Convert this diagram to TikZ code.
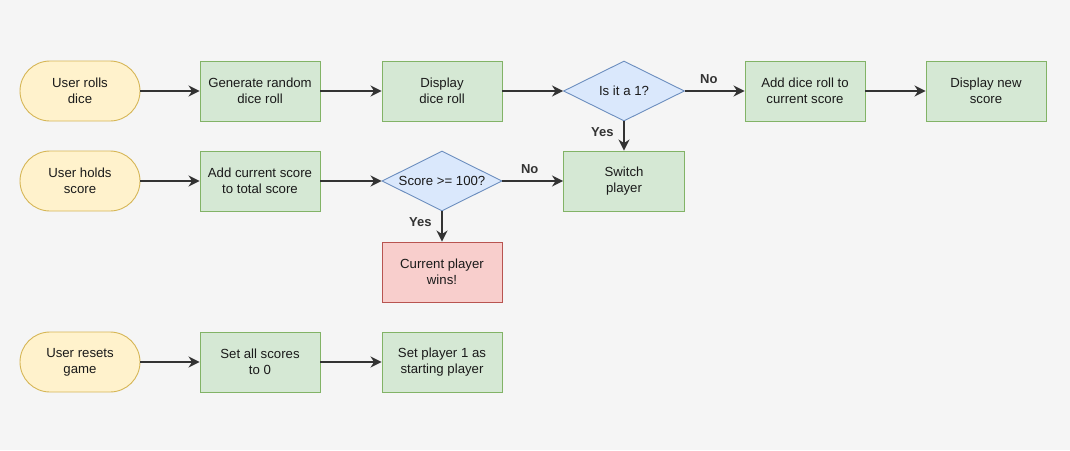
\documentclass[tikz,border=0pt]{standalone}
\usepackage{fontspec}
\setmainfont{Liberation Sans}
\usetikzlibrary{shapes.geometric,shapes.misc,arrows.meta}
\definecolor{bg}{HTML}{F5F5F5}
\definecolor{termfill}{HTML}{FFF2CC}
\definecolor{termdraw}{HTML}{D6B656}
\definecolor{procfill}{HTML}{D5E8D4}
\definecolor{procdraw}{HTML}{82B366}
\definecolor{decfill}{HTML}{DAE8FC}
\definecolor{decdraw}{HTML}{6C8EBF}
\definecolor{endfill}{HTML}{F8CECC}
\definecolor{enddraw}{HTML}{B85450}
\definecolor{edge}{HTML}{333333}
\definecolor{txt}{HTML}{1A1A1A}
\tikzset{
  base/.style={font=\fontsize{13.2}{16}\selectfont, align=center, text=txt, line width=0.9pt, inner sep=0pt},
  term/.style={base, rounded rectangle, fill=termfill, draw=termdraw, minimum width=120pt, minimum height=60pt},
  proc/.style={base, rectangle, fill=procfill, draw=procdraw, minimum width=120pt, minimum height=60pt},
  win/.style={base, rectangle, fill=endfill, draw=enddraw, minimum width=120pt, minimum height=60pt},
  dec/.style={base, diamond, fill=decfill, draw=decdraw, minimum width=120pt, minimum height=60pt, aspect=2},
  conn/.style={draw=edge, line width=2.2pt, -{Stealth[length=11pt,width=11pt,inset=3.5pt]}},
  lbl/.style={font=\fontsize{13}{15}\selectfont\bfseries, text=edge}
}
\begin{document}
\begin{tikzpicture}[x=1pt,y=-1pt]
\fill[bg] (0,0) rectangle (1070,450);
\useasboundingbox (0,0) rectangle (1070,450);
% row 1
\node[term] (roll) at (80,91) {User rolls\\dice};
\node[proc] (gen) at (260,91) {Generate random\\dice roll};
\node[proc] (disp) at (442,91) {Display\\dice roll};
\node[dec, minimum width=121pt] (is1) at (624,91) {Is it a 1?};
\node[proc] (add) at (805,91) {Add dice roll to\\current score};
\node[proc] (new) at (986,91) {Display new\\score};
% row 2
\node[term] (hold) at (80,181) {User holds\\score};
\node[proc] (total) at (260,181) {Add current score\\to total score};
\node[dec] (s100) at (442,181) {Score >= 100?};
\node[proc, minimum width=121pt] (switch) at (624,181) {Switch\\player};
\node[win] (wins) at (442,272) {Current player\\wins!};
% row 3
\node[term] (reset) at (80,362) {User resets\\game};
\node[proc] (zero) at (260,362) {Set all scores\\to 0};
\node[proc] (start) at (442,362) {Set player 1 as\\starting player};
% connectors
\draw[conn] (roll.east) -- (gen.west);
\draw[conn] (gen.east) -- (disp.west);
\draw[conn] (disp.east) -- (is1.west);
\draw[conn] (is1.east) -- node[lbl, above=3pt, pos=0.4] {No} (add.west);
\draw[conn] (add.east) -- (new.west);
\draw[conn] (is1.south) -- node[lbl, left=6pt, pos=0.35] {Yes} (switch.north);
\draw[conn] (hold.east) -- (total.west);
\draw[conn] (total.east) -- (s100.west);
\draw[conn] (s100.east) -- node[lbl, above=3pt, pos=0.45] {No} (switch.west);
\draw[conn] (s100.south) -- node[lbl, left=6pt, pos=0.35] {Yes} (wins.north);
\draw[conn] (reset.east) -- (zero.west);
\draw[conn] (zero.east) -- (start.west);
\end{tikzpicture}
\end{document}
